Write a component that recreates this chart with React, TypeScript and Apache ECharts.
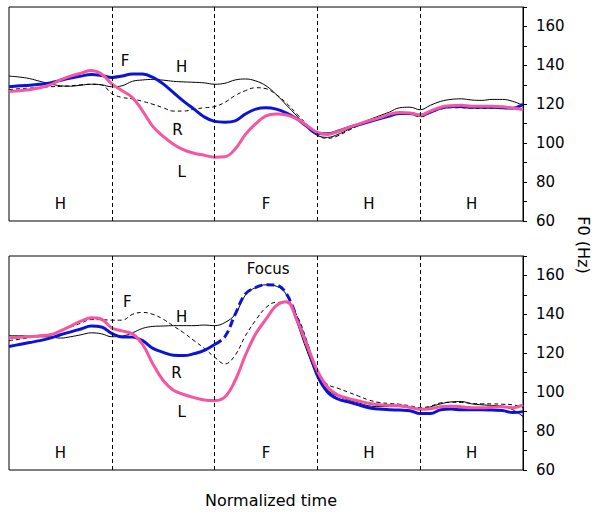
import React, { useEffect, useRef } from "react";
import * as echarts from "echarts";

// Normalized time (5 equal segments)
const timePoints = [
  0, 0.1, 0.2, 0.3, 0.4, 0.5, 0.6, 0.7, 0.8, 0.9,
  1, 1.1, 1.2, 1.3, 1.4, 1.5, 1.6, 1.7, 1.8, 1.9,
  2, 2.1, 2.2, 2.3, 2.4, 2.5, 2.6, 2.7, 2.8, 2.9,
  3, 3.1, 3.2, 3.3, 3.4, 3.5, 3.6, 3.7, 3.8, 3.9,
  4, 4.1, 4.2, 4.3, 4.4, 4.5, 4.6, 4.7, 4.8, 4.9, 5,
];

const segmentBoundaries = [1, 2, 3, 4];
const segmentCenters = [0.5, 2.5, 3.5, 4.5];
const segmentLabels = ["H", "F", "H", "H"];
const yTickValues = [60, 80, 100, 120, 140, 160];

// Top panel
const topH = [
  134.5, 134, 133.2, 131.8, 130.5, 129.5, 129.3, 129.8, 130.3, 130,
  129, 129.5, 131.8, 132.5, 132.8, 132.4, 131.8, 131.5, 131.3, 131,
  130.3, 130.8, 132.5, 133, 132, 129.5, 125, 119.5, 114, 108.5,
  104, 103, 104.5, 107, 109.5, 112, 114, 116, 118.2, 118.5,
  117.2, 119.5, 121.5, 122.5, 122.8, 122.2, 122, 122.5, 122.5, 121.5, 119.5,
];
const topR = [
  127.5, 128, 128.3, 128.6, 129, 129.2, 129.5, 130, 130.3, 130,
  125.5, 123.5, 122.8, 121.5, 120, 118.2, 116.5, 116.5, 117.5, 118.2,
  118.8, 121, 124.5, 127, 128.5, 128, 125, 120.5, 115, 109.5,
  104, 102.5, 103.8, 106.5, 109, 111.3, 112.8, 114.2, 115.5, 115,
  113.5, 115.5, 117.5, 118.2, 118.2, 118, 117.8, 118, 118, 118.2, 119,
];
const topF = [
  129, 129.5, 129.8, 130.3, 131, 132.3, 133.5, 134.5, 135.3, 134.8,
  133.8, 134.5, 135.6, 135.5, 133.8, 130.5, 126, 121.5, 117.5, 113.5,
  111.2, 110.8, 111.5, 115, 117.5, 118.2, 117.5, 115.5, 112.5, 108.5,
  105, 104.8, 106.2, 108, 109.5, 111, 112.5, 114, 115.3, 115.3,
  114.3, 116, 118, 118.8, 118.8, 118.5, 118.5, 118.5, 118.2, 118, 120,
];
const topL = [
  126.5, 127, 127.5, 128.5, 130, 132.5, 134.5, 136, 137.3, 135.5,
  130.5, 127, 123.5, 116.5, 108.5, 103.5, 99.5, 96.5, 94.8, 93.8,
  92.8, 93, 97, 104.5, 110, 114, 115, 114.5, 112.5, 109,
  105.5, 104.5, 106, 108, 109.8, 111.5, 113, 114.8, 115.8, 115.5,
  114.5, 116.5, 118.5, 119.3, 119.5, 119, 119, 119, 118.7, 118, 117.3,
];

// Bottom panel
const botH = [
  129, 129, 128.8, 128.5, 128.4, 127.8, 128.5, 129.5, 130.5, 130,
  128.5, 128.8, 130.5, 132.8, 133.8, 134, 134.2, 134.2, 134.2, 134.5,
  134.2, 135.8, 140, 150, 153.8, 155.2, 154.5, 150, 136, 121,
  108.5, 101, 98, 96, 94.5, 93, 92.6, 92.6, 92.6, 92,
  91.3, 92.5, 94, 95, 95.2, 94, 93.5, 93.2, 92.8, 91, 87.5,
];
const botR = [
  126.5, 127.2, 128, 128.6, 129.3, 131.5, 133.5, 135.5, 137.3, 137.3,
  137, 137, 140, 141, 140, 137.5, 134, 130.5, 126.5, 122.5,
  118, 114.5, 119, 129, 137, 143.5, 146.2, 146, 139.5, 126,
  110, 104, 102, 100, 98, 96, 94.7, 94.2, 93.8, 93,
  92, 92.8, 94.5, 94.8, 94.7, 94.3, 94, 94, 93.8, 93.5, 92,
];
const botF = [
  123.5, 124.5, 125.5, 126.5, 127.8, 129.5, 131, 132.5, 134, 133.5,
  130.2, 128.4, 128.3, 126.5, 122.5, 120.5, 119, 118.8, 119.8, 121.5,
  124.5, 128.5, 140, 150.5, 153.8, 155.2, 155, 150.5, 138, 124,
  108.5, 100, 96.5, 95, 93.5, 92, 91.3, 91, 90.8, 90.5,
  89, 89, 91, 91.3, 91, 91, 91, 90.8, 90.6, 89.5, 90,
];
const botL = [
  128, 128.2, 128.5, 129, 129.5, 131.5, 134, 136.5, 138.2, 137.5,
  133, 131.5, 130, 124.5, 114.5, 106, 101, 98.8, 97.2, 96,
  95.7, 97.5, 106, 119, 130, 137.5, 144.5, 146.5, 137, 124,
  111, 102.5, 98.5, 96.8, 95.5, 94.3, 93.5, 93.2, 93, 92.2,
  91.2, 91.5, 92.5, 92.8, 92.5, 92, 92, 92.2, 92.5, 92, 93.5,
];
// range (in time) where the blue focus contour is dashed
const focusDashedRange = [2.0, 2.8];

const PINK = "#f7559f";
const BLUE = "#0a14d8";
const FONT = "DejaVu Sans";

function pairs(vals: number[], keep?: (t: number) => boolean) {
  return timePoints.map((t, i) => [t, keep && !keep(t) ? null : vals[i]]);
}

export default function App() {
  const ref = useRef<HTMLDivElement>(null);
  useEffect(() => {
    if (!ref.current) return;
    const chart = echarts.init(ref.current, undefined, { renderer: "svg" });
    const grids = [
      { left: 9, top: 7, width: 514, height: 214 },
      { left: 9, top: 256, width: 514, height: 214 },
    ];
    const mkSeries = (gi: number, h: number[], r: number[], f: number[], l: number[], splitFocus: boolean) => {
      const base = { type: "line", xAxisIndex: gi, yAxisIndex: gi, showSymbol: false, symbol: "none", smooth: 0.4, silent: true, connectNulls: false } as any;
      const s: any[] = [
        {
          ...base, name: "sep" + gi, data: [], lineStyle: { width: 0 },
          markLine: {
            silent: true, symbol: ["none", "none"], label: { show: false },
            lineStyle: { color: "#000", type: [4, 3], width: 1 },
            data: segmentBoundaries.map((b) => ({ xAxis: b })),
          },
        },
        { ...base, name: "H", data: pairs(h), lineStyle: { color: "#000", width: 1 } },
        { ...base, name: "R", data: pairs(r), lineStyle: { color: "#000", width: 1, type: [4, 3] } },
      ];
      if (splitFocus) {
        const [a, b] = focusDashedRange;
        s.push({ ...base, name: "F1", data: pairs(f, (t) => t <= a + 1e-9), lineStyle: { color: BLUE, width: 3 } });
        s.push({ ...base, name: "F2", data: pairs(f, (t) => t >= a - 1e-9 && t <= b + 1e-9), lineStyle: { color: BLUE, width: 3, type: [8, 4] } });
        s.push({ ...base, name: "F3", data: pairs(f, (t) => t >= b - 1e-9), lineStyle: { color: BLUE, width: 3 } });
      } else {
        s.push({ ...base, name: "F", data: pairs(f), lineStyle: { color: BLUE, width: 3 } });
      }
      s.push({ ...base, name: "L", data: pairs(l), lineStyle: { color: PINK, width: 3 } });
      return s;
    };

    const yAxisDef = (gi: number) => ({
      type: "value", gridIndex: gi, position: "right", min: 60, max: 170, interval: 10,
      axisLine: { show: true, onZero: false, lineStyle: { color: "#000", width: 1 } },
      axisTick: { show: true, inside: false, length: 4, lineStyle: { color: "#000" } },
      splitLine: { show: false },
      minorTick: { show: false },
      axisLabel: {
        color: "#000", fontSize: 15, fontFamily: FONT, margin: 13,
        formatter: (v: number) => (yTickValues.includes(v) ? String(v) : ""),
      },
    });
    const xAxisDef = (gi: number) => ({
      type: "value", gridIndex: gi, min: 0, max: 5, show: false,
      axisLine: { show: false }, axisTick: { show: false }, axisLabel: { show: false }, splitLine: { show: false },
    });

    const text = (x: number, y: number, t: string, extra: any = {}) => ({
      type: "text", x, y, silent: true,
      style: { text: t, fill: "#000", font: `15px "${FONT}"`, align: "center", verticalAlign: "middle", ...extra },
    });

    const option: any = {
      animation: false,
      backgroundColor: "#fff",
      grid: grids.map((g) => ({ ...g, show: true, borderColor: "#000", borderWidth: 1, backgroundColor: "transparent" })),
      xAxis: [xAxisDef(0), xAxisDef(1)],
      yAxis: [yAxisDef(0), yAxisDef(1)],
      series: [...mkSeries(0, topH, topR, topF, topL, false), ...mkSeries(1, botH, botR, botF, botL, true)],
    };
    chart.setOption(option);

    const px = (gi: number, t: number, v: number) => chart.convertToPixel({ gridIndex: gi } as any, [t, v]) as number[];
    const graphics: any[] = [];
    [0, 1].forEach((gi) => {
      segmentCenters.forEach((c, i) => {
        const p = px(gi, c, 68);
        graphics.push(text(p[0], p[1] - 1, segmentLabels[i]));
      });
    });
    const ann: [number, number, number, string][] = [
      [0, 1.13, 142.5, "F"], [0, 1.68, 139, "H"], [0, 1.64, 107, "R"], [0, 1.68, 85.3, "L"],
      [1, 2.52, 163.1, "Focus"], [1, 1.15, 146.6, "F"], [1, 1.68, 138.4, "H"], [1, 1.63, 110, "R"], [1, 1.68, 89.9, "L"],
    ];
    ann.forEach(([gi, t, v, s]) => {
      const p = px(gi, t, v);
      graphics.push(text(p[0], p[1], s));
    });
    graphics.push(text(583, 245, "F0 (Hz)", { font: `16px "${FONT}"` }));
    graphics[graphics.length - 1].rotation = -Math.PI / 2;
    graphics.push(text(271, 500, "Normalized time", { font: `16px "${FONT}"` }));
    chart.setOption({ graphic: graphics });

    return () => chart.dispose();
  }, []);
  return <div ref={ref} style={{ position: "absolute", left: 0, top: 0, width: 598, height: 514 }} />;
}
